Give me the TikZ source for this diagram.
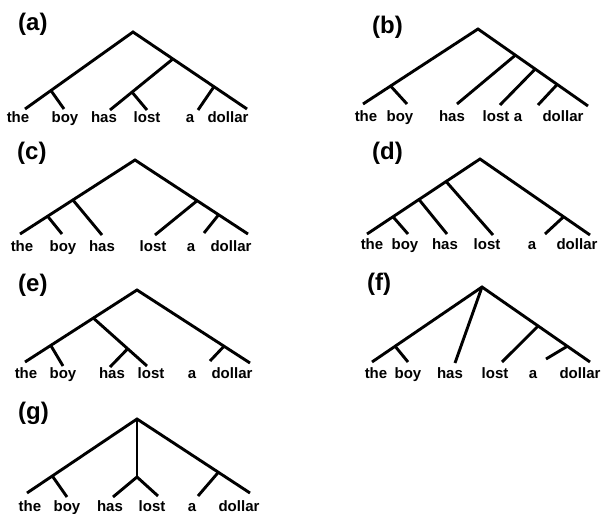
\documentclass[tikz,border=0pt]{standalone}
\usepackage{fontspec}
\setmainfont{Liberation Sans}
\usetikzlibrary{calc}
\newcommand{\wordfont}{\fontsize{15}{15}\selectfont\bfseries}
\newcommand{\tagfont}{\fontsize{24}{24}\selectfont\bfseries}
\tikzset{
  branch/.style={line width=2.9pt, line join=miter},
  word/.style={font=\wordfont, anchor=base, inner sep=0pt},
  tag/.style={font=\tagfont, anchor=north west, inner sep=0pt},
}
\begin{document}
\begin{tikzpicture}[x=1pt, y=-1pt]
\useasboundingbox (0,0) rectangle (603,514);

% ---------- (a) [[the boy] [[has lost] [a dollar]]]
\node[tag] (a-tag) at (18,13) {(a)};
\coordinate (a-r) at (133,32);
\coordinate (a-l1) at (25,109);
\coordinate (a-l6) at (247,109);
\coordinate (a-np) at ($(a-r)!0.76!(a-l1)$);
\coordinate (a-l2) at (64,109);
\coordinate (a-vp) at ($(a-r)!0.35!(a-l6)$);
\coordinate (a-l3) at (110,110);
\coordinate (a-hl) at ($(a-vp)!0.65!(a-l3)$);
\coordinate (a-l4) at (147,110);
\coordinate (a-ad) at ($(a-r)!0.71!(a-l6)$);
\coordinate (a-l5) at (198,110);
\draw[branch] (a-l1) -- (a-r) -- (a-l6);
\draw[branch] (a-np) -- (a-l2);
\draw[branch] (a-vp) -- (a-l3);
\draw[branch] (a-hl) -- (a-l4);
\draw[branch] (a-ad) -- (a-l5);
\node[word] (a-w1) at (18,122) {the};
\node[word] (a-w2) at (65,122) {boy};
\node[word] (a-w3) at (104,122) {has};
\node[word] (a-w4) at (147,122) {lost};
\node[word] (a-w5) at (190,122) {a};
\node[word] (a-w6) at (228,122) {dollar};

% ---------- (b) [[the boy] [has [lost [a dollar]]]]
\node[tag] (b-tag) at (372,16) {(b)};
\coordinate (b-r) at (478,29);
\coordinate (b-l1) at (363,104);
\coordinate (b-l6) at (588,106);
\coordinate (b-np) at ($(b-r)!0.76!(b-l1)$);
\coordinate (b-l2) at (407,104);
\coordinate (b-n1) at ($(b-r)!0.34!(b-l6)$);
\coordinate (b-l3) at (457,104);
\coordinate (b-n2) at ($(b-r)!0.52!(b-l6)$);
\coordinate (b-l4) at (500,105);
\coordinate (b-n3) at ($(b-r)!0.72!(b-l6)$);
\coordinate (b-l5) at (538,105);
\draw[branch] (b-l1) -- (b-r) -- (b-l6);
\draw[branch] (b-np) -- (b-l2);
\draw[branch] (b-n1) -- (b-l3);
\draw[branch] (b-n2) -- (b-l4);
\draw[branch] (b-n3) -- (b-l5);
\node[word] (b-w1) at (366,121) {the};
\node[word] (b-w2) at (400,121) {boy};
\node[word] (b-w3) at (452,121) {has};
\node[word] (b-w4) at (496,121) {lost};
\node[word] (b-w5) at (518,121) {a};
\node[word] (b-w6) at (563,121) {dollar};

% ---------- (c) [[[the boy] has] [lost [a dollar]]]
\node[tag] (c-tag) at (17,142) {(c)};
\coordinate (c-r) at (135,160);
\coordinate (c-l1) at (20,234);
\coordinate (c-l6) at (248,234);
\coordinate (c-tbh) at ($(c-r)!0.54!(c-l1)$);
\coordinate (c-l3) at (102,235);
\coordinate (c-tb) at ($(c-r)!0.76!(c-l1)$);
\coordinate (c-l2) at (62,234);
\coordinate (c-lad) at ($(c-r)!0.55!(c-l6)$);
\coordinate (c-l4) at (155,235);
\coordinate (c-ad) at ($(c-r)!0.74!(c-l6)$);
\coordinate (c-l5) at (204,233);
\draw[branch] (c-l1) -- (c-r) -- (c-l6);
\draw[branch] (c-tbh) -- (c-l3);
\draw[branch] (c-tb) -- (c-l2);
\draw[branch] (c-lad) -- (c-l4);
\draw[branch] (c-ad) -- (c-l5);
\node[word] (c-w1) at (22,251) {the};
\node[word] (c-w2) at (63,251) {boy};
\node[word] (c-w3) at (102,251) {has};
\node[word] (c-w4) at (153,251) {lost};
\node[word] (c-w5) at (191,251) {a};
\node[word] (c-w6) at (231,251) {dollar};

% ---------- (d) [[[[the boy] has] lost] [a dollar]]
\node[tag] (d-tag) at (372,142) {(d)};
\coordinate (d-r) at (480,159);
\coordinate (d-l1) at (367,234);
\coordinate (d-l6) at (590,235);
\coordinate (d-tbhl) at ($(d-r)!0.30!(d-l1)$);
\coordinate (d-l4) at (493,235);
\coordinate (d-tbh) at ($(d-r)!0.54!(d-l1)$);
\coordinate (d-l3) at (447,234);
\coordinate (d-tb) at ($(d-r)!0.77!(d-l1)$);
\coordinate (d-l2) at (408,234);
\coordinate (d-ad) at ($(d-r)!0.76!(d-l6)$);
\coordinate (d-l5) at (545,234);
\draw[branch] (d-l1) -- (d-r) -- (d-l6);
\draw[branch] (d-tbhl) -- (d-l4);
\draw[branch] (d-tbh) -- (d-l3);
\draw[branch] (d-tb) -- (d-l2);
\draw[branch] (d-ad) -- (d-l5);
\node[word] (d-w1) at (372,249) {the};
\node[word] (d-w2) at (405,249) {boy};
\node[word] (d-w3) at (445,249) {has};
\node[word] (d-w4) at (487,249) {lost};
\node[word] (d-w5) at (532,249) {a};
\node[word] (d-w6) at (577,249) {dollar};

% ---------- (e) [[[the boy] [has lost]] [a dollar]]
\node[tag] (e-tag) at (18,274) {(e)};
\coordinate (e-r) at (137,290);
\coordinate (e-l1) at (25,362);
\coordinate (e-l6) at (250,363);
\coordinate (e-tbhl) at ($(e-r)!0.39!(e-l1)$);
\coordinate (e-l4) at (147,366);
\coordinate (e-tb) at ($(e-r)!0.77!(e-l1)$);
\coordinate (e-l2) at (63,366);
\coordinate (e-hl) at ($(e-tbhl)!0.64!(e-l4)$);
\coordinate (e-l3) at (110,367);
\coordinate (e-ad) at ($(e-r)!0.77!(e-l6)$);
\coordinate (e-l5) at (210,361);
\draw[branch] (e-l1) -- (e-r) -- (e-l6);
\draw[branch] (e-tbhl) -- (e-l4);
\draw[branch] (e-tb) -- (e-l2);
\draw[branch] (e-hl) -- (e-l3);
\draw[branch] (e-ad) -- (e-l5);
\node[word] (e-w1) at (26,378) {the};
\node[word] (e-w2) at (63,378) {boy};
\node[word] (e-w3) at (112,378) {has};
\node[word] (e-w4) at (151,378) {lost};
\node[word] (e-w5) at (192,378) {a};
\node[word] (e-w6) at (232,378) {dollar};

% ---------- (f) [[the boy] has [lost [a dollar]]]
\node[tag] (f-tag) at (367,273) {(f)};
\coordinate (f-r) at (482,287);
\coordinate (f-l1) at (372,362);
\coordinate (f-l6) at (590,362);
\coordinate (f-tb) at ($(f-r)!0.79!(f-l1)$);
\coordinate (f-l2) at (408,362);
\coordinate (f-l3) at (455,363);
\coordinate (f-lad) at ($(f-r)!0.52!(f-l6)$);
\coordinate (f-l4) at (502,362);
\coordinate (f-ad) at ($(f-r)!0.79!(f-l6)$);
\coordinate (f-l5) at (546,359);
\draw[branch] (f-l1) -- (f-r) -- (f-l6);
\draw[branch] (f-r) -- (f-l3);
\draw[branch] (f-tb) -- (f-l2);
\draw[branch] (f-lad) -- (f-l4);
\draw[branch] (f-ad) -- (f-l5);
\node[word] (f-w1) at (376,378) {the};
\node[word] (f-w2) at (408,378) {boy};
\node[word] (f-w3) at (450,378) {has};
\node[word] (f-w4) at (495,378) {lost};
\node[word] (f-w5) at (533,378) {a};
\node[word] (f-w6) at (580,378) {dollar};

% ---------- (g) [[the boy] [has lost] [a dollar]]
\node[tag] (g-tag) at (18,402) {(g)};
\coordinate (g-r) at (137,419);
\coordinate (g-l1) at (27,493);
\coordinate (g-l6) at (250,493);
\coordinate (g-tb) at ($(g-r)!0.77!(g-l1)$);
\coordinate (g-l2) at (67,497);
\coordinate (g-hl) at (137,477);
\coordinate (g-l3) at (113,497);
\coordinate (g-l4) at (158,496);
\coordinate (g-ad) at ($(g-r)!0.72!(g-l6)$);
\coordinate (g-l5) at (198,496);
\draw[branch] (g-l1) -- (g-r) -- (g-l6);
\draw[branch] (g-r) -- (g-hl);
\draw[branch] (g-l3) -- (g-hl) -- (g-l4);
\draw[branch] (g-tb) -- (g-l2);
\draw[branch] (g-ad) -- (g-l5);
\node[word] (g-w1) at (30,511) {the};
\node[word] (g-w2) at (67,511) {boy};
\node[word] (g-w3) at (110,511) {has};
\node[word] (g-w4) at (152,511) {lost};
\node[word] (g-w5) at (192,511) {a};
\node[word] (g-w6) at (239,511) {dollar};
\end{tikzpicture}
\end{document}
